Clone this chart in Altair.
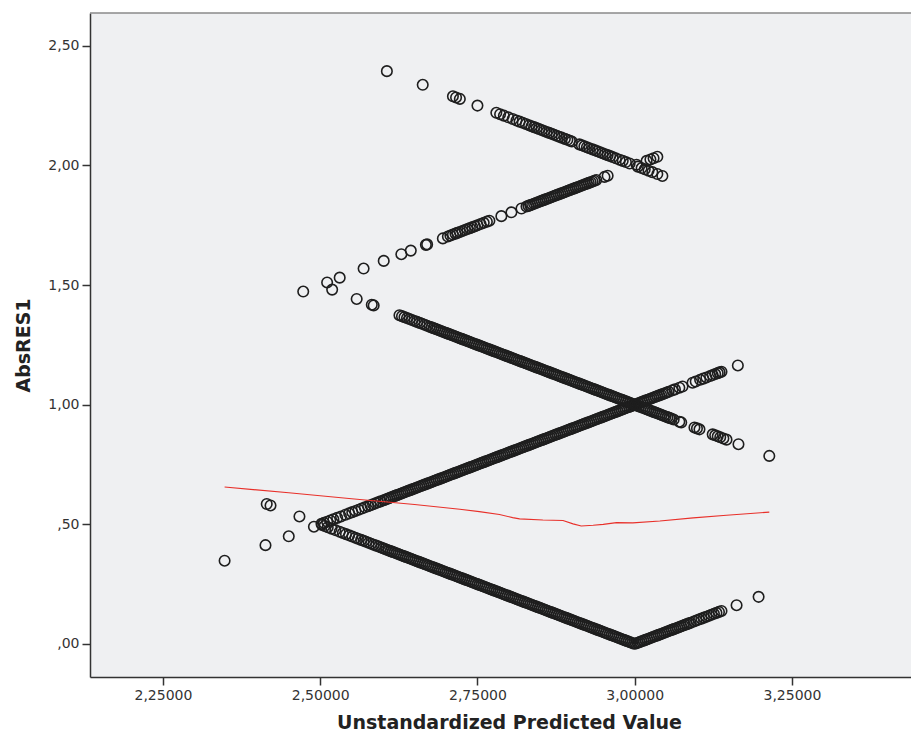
import altair as alt
import pandas as pd

# Predicted values grouped by observed response (1..5); AbsRES1 = |observed - predicted|
pred_obs1 = [2.473, 2.511, 2.531, 2.569, 2.601, 2.629, 2.644, 2.668, 2.670, 2.695,
             2.703, 2.707, 2.711, 2.715, 2.718, 2.722, 2.726, 2.730, 2.734, 2.738,
             2.742, 2.746, 2.750, 2.755, 2.760, 2.765, 2.769, 2.788, 2.804, 2.820,
             2.828, 2.831, 2.834, 2.837, 2.840, 2.843, 2.846, 2.849, 2.852, 2.855,
             2.858, 2.861, 2.864, 2.867, 2.870, 2.873, 2.876, 2.879, 2.882, 2.885,
             2.888, 2.891, 2.894, 2.897, 2.900, 2.903, 2.906, 2.909, 2.912, 2.915,
             2.918, 2.921, 2.924, 2.927, 2.930, 2.933, 2.936, 2.939, 2.952, 2.957,
             3.003, 3.019, 3.025, 3.030, 3.036]

pred_obs2 = [2.348, 2.413, 2.450, 2.490, 2.502, 2.506, 2.511, 2.516, 2.521, 2.527,
             2.533, 2.540, 2.546, 2.551, 2.556, 2.561, 2.566, 2.571, 2.576, 2.580,
             2.584, 2.588, 2.592, 2.596,
             2.601, 2.604, 2.607, 2.610, 2.613, 2.616, 2.619, 2.622, 2.625, 2.628,
             2.631, 2.634, 2.637, 2.640, 2.643, 2.646, 2.649, 2.652, 2.655, 2.658,
             2.661, 2.664, 2.667, 2.670, 2.673, 2.676, 2.679, 2.682, 2.685, 2.688,
             2.691, 2.694, 2.697, 2.700, 2.703, 2.706, 2.709, 2.712, 2.715, 2.718,
             2.721, 2.724, 2.727, 2.730, 2.733, 2.736, 2.739, 2.742, 2.745, 2.748,
             2.751, 2.754, 2.757, 2.760, 2.763, 2.766, 2.769, 2.772, 2.775, 2.778,
             2.781, 2.784, 2.787, 2.790, 2.793, 2.796, 2.799, 2.802, 2.805, 2.808,
             2.811, 2.814, 2.817, 2.820, 2.823, 2.826, 2.829, 2.832, 2.835, 2.838,
             2.841, 2.844, 2.847, 2.850, 2.853, 2.856, 2.859, 2.862, 2.865, 2.868,
             2.871, 2.874, 2.877, 2.880, 2.883, 2.886, 2.889, 2.892, 2.895, 2.898,
             2.901, 2.904, 2.907, 2.910, 2.913, 2.916, 2.919, 2.922, 2.925, 2.928,
             2.931, 2.934, 2.937, 2.940, 2.943, 2.946, 2.949, 2.952, 2.955, 2.958,
             2.961, 2.964, 2.967, 2.970, 2.973, 2.976, 2.979, 2.982, 2.985, 2.988,
             2.991, 2.994, 2.997, 3.000, 3.003, 3.006, 3.009, 3.012, 3.015, 3.018,
             3.021, 3.024, 3.027, 3.030, 3.033, 3.036, 3.039, 3.042, 3.045, 3.048,
             3.051, 3.054,
             3.060, 3.064, 3.071, 3.076, 3.092, 3.097, 3.104, 3.109, 3.114, 3.120,
             3.124, 3.128, 3.132, 3.135, 3.138, 3.164]

pred_obs3 = [2.415, 2.421, 2.467, 2.503, 2.507, 2.512, 2.518, 2.524, 2.531, 2.536,
             2.541, 2.546, 2.551, 2.556, 2.560, 2.565, 2.569, 2.573, 2.577, 2.581,
             2.585, 2.589, 2.593, 2.597,
             2.600, 2.603, 2.606, 2.609, 2.612, 2.615, 2.618, 2.621, 2.624, 2.627,
             2.630, 2.633, 2.636, 2.639, 2.642, 2.645, 2.648, 2.651, 2.654, 2.657,
             2.660, 2.663, 2.666, 2.669, 2.672, 2.675, 2.678, 2.681, 2.684, 2.687,
             2.690, 2.693, 2.696, 2.699, 2.702, 2.705, 2.708, 2.711, 2.714, 2.717,
             2.720, 2.723, 2.726, 2.729, 2.732, 2.735, 2.738, 2.741, 2.744, 2.747,
             2.750, 2.753, 2.756, 2.759, 2.762, 2.765, 2.768, 2.771, 2.774, 2.777,
             2.780, 2.783, 2.786, 2.789, 2.792, 2.795, 2.798, 2.801, 2.804, 2.807,
             2.810, 2.813, 2.816, 2.819, 2.822, 2.825, 2.828, 2.831, 2.834, 2.837,
             2.840, 2.843, 2.846, 2.849, 2.852, 2.855, 2.858, 2.861, 2.864, 2.867,
             2.870, 2.873, 2.876, 2.879, 2.882, 2.885, 2.888, 2.891, 2.894, 2.897,
             2.900, 2.903, 2.906, 2.909, 2.912, 2.915, 2.918, 2.921, 2.924, 2.927,
             2.930, 2.933, 2.936, 2.939, 2.942, 2.945, 2.948, 2.951, 2.954, 2.957,
             2.960, 2.963, 2.966, 2.969, 2.972, 2.975, 2.978, 2.981, 2.984, 2.987,
             2.990, 2.993, 2.996, 2.999,
             3.002, 3.005, 3.008, 3.011, 3.014, 3.017, 3.020, 3.023, 3.026, 3.029,
             3.032, 3.035, 3.038, 3.041, 3.044, 3.047, 3.050, 3.053, 3.056, 3.059,
             3.062, 3.065, 3.068, 3.071, 3.074, 3.077, 3.080, 3.083, 3.086, 3.089,
             3.094, 3.098, 3.102, 3.106, 3.110, 3.114, 3.118, 3.122, 3.126, 3.130,
             3.134, 3.138, 3.162, 3.197]

pred_obs4 = [2.519, 2.558, 2.582, 2.585, 2.626, 2.630, 2.634, 2.638, 2.642, 2.646,
             2.650, 2.654, 2.658, 2.662, 2.666, 2.670, 2.674, 2.677,
             2.680, 2.683, 2.686, 2.689, 2.692, 2.695, 2.698, 2.701, 2.704, 2.707,
             2.710, 2.713, 2.716, 2.719, 2.722, 2.725, 2.728, 2.731, 2.734, 2.737,
             2.740, 2.743, 2.746, 2.749, 2.752, 2.755, 2.758, 2.761, 2.764, 2.767,
             2.770, 2.773, 2.776, 2.779, 2.782, 2.785, 2.788, 2.791, 2.794, 2.797,
             2.800, 2.803, 2.806, 2.809, 2.812, 2.815, 2.818, 2.821, 2.824, 2.827,
             2.830, 2.833, 2.836, 2.839, 2.842, 2.845, 2.848, 2.851, 2.854, 2.857,
             2.860, 2.863, 2.866, 2.869, 2.872, 2.875, 2.878, 2.881, 2.884, 2.887,
             2.890, 2.893, 2.896, 2.899, 2.902, 2.905, 2.908, 2.911, 2.914, 2.917,
             2.920, 2.923, 2.926, 2.929, 2.932, 2.935, 2.938, 2.941, 2.944, 2.947,
             2.950, 2.953, 2.956, 2.959, 2.962, 2.965, 2.968, 2.971, 2.974, 2.977,
             2.980, 2.983, 2.986, 2.989, 2.992, 2.995, 2.998, 3.001, 3.004, 3.007,
             3.010, 3.013, 3.016, 3.019, 3.022, 3.025, 3.028, 3.031, 3.034, 3.037,
             3.040, 3.043, 3.046, 3.049, 3.052, 3.055,
             3.058, 3.062, 3.071, 3.074, 3.095, 3.099, 3.103, 3.124, 3.128, 3.132,
             3.136, 3.141, 3.146, 3.165, 3.214]

pred_obs5 = [2.606, 2.663, 2.711, 2.716, 2.722, 2.750, 2.780, 2.786, 2.792, 2.799,
             2.806, 2.812, 2.817, 2.822, 2.827, 2.832, 2.836, 2.840, 2.844, 2.848,
             2.852, 2.856, 2.860, 2.864, 2.868, 2.872, 2.876, 2.880, 2.884, 2.889,
             2.893, 2.897, 2.900, 2.912, 2.916, 2.920, 2.924, 2.928, 2.933, 2.937,
             2.941, 2.945, 2.949, 2.953, 2.957, 2.961, 2.965, 2.970, 2.976, 2.981,
             2.986, 2.992, 3.005, 3.011, 3.016, 3.022, 3.028, 3.036, 3.044]

# Loess fit line (red)
loess_x = [2.348, 2.45, 2.55, 2.65, 2.722, 2.753, 2.785, 2.806, 2.817, 2.854,
           2.886, 2.902, 2.915, 2.934, 2.950, 2.971, 2.997, 3.040, 3.093, 3.146, 3.214]
loess_y = [0.656, 0.632, 0.607, 0.583, 0.563, 0.553, 0.541, 0.528, 0.523, 0.518,
           0.516, 0.502, 0.493, 0.496, 0.500, 0.507, 0.506, 0.514, 0.527, 0.538, 0.551]

x_ticks = [2.25, 2.50, 2.75, 3.00, 3.25]
y_ticks = [0.0, 0.5, 1.0, 1.5, 2.0, 2.5]

rows = []
for obs, lst in [(1, pred_obs1), (2, pred_obs2), (3, pred_obs3), (4, pred_obs4), (5, pred_obs5)]:
    for p in lst:
        rows.append({"pred": p, "obs": obs})
df = pd.DataFrame(rows)
loess_df = pd.DataFrame({"pred": loess_x, "AbsRES1": loess_y})

W, H = 821, 664
x_scale = alt.Scale(domain=[2.134, 3.4393], nice=False, zero=False)
y_scale = alt.Scale(domain=[-0.138, 2.637], nice=False, zero=False)

x_label = "replace(format(datum.value, '.5f'), '.', ',')"
y_label = ("datum.value < 1 ? ',' + substring(format(datum.value, '.2f'), 2) "
           ": replace(format(datum.value, '.2f'), '.', ',')")

x_axis = alt.Axis(values=x_ticks, labelExpr=x_label, title="Unstandardized Predicted Value",
                  grid=False, titleX=419, titleY=51, titleBaseline="alphabetic",
                  titleAlign="center")
y_axis = alt.Axis(values=y_ticks, labelExpr=y_label, title="AbsRES1", grid=False,
                  titlePadding=14)

points = alt.Chart(df).transform_calculate(
    AbsRES1="abs(datum.obs - datum.pred)"
).mark_point(shape="circle", filled=False, size=110, color="#1e1e1e",
             strokeWidth=1.6, opacity=1).encode(
    x=alt.X("pred:Q", scale=x_scale, axis=x_axis),
    y=alt.Y("AbsRES1:Q", scale=y_scale, axis=y_axis),
)

loess = alt.Chart(loess_df).mark_line(color="#e8302a", strokeWidth=1.1).encode(
    x=alt.X("pred:Q", scale=x_scale, axis=x_axis),
    y=alt.Y("AbsRES1:Q", scale=y_scale, axis=y_axis),
)

top_border = alt.Chart(pd.DataFrame({"k": [0]})).mark_rule(
    color="#8a8a8a", strokeWidth=1.5
).encode(x=alt.value(0), x2=alt.value(W), y=alt.value(0))

chart = alt.layer(points, loess, top_border).properties(
    width=W, height=H,
    autosize=alt.AutoSizeParams(type="none"),
    padding={"left": 82, "top": 5, "right": 0, "bottom": 56},
).configure_view(
    fill="#eff0f2", stroke=None
).configure_axis(
    domainColor="#333333", domainWidth=1.5,
    tickColor="#333333", tickWidth=1.5, tickSize=8,
    labelFont="DejaVu Sans", labelFontSize=14, labelColor="#333333", labelPadding=3,
    titleFont="DejaVu Sans", titleFontSize=19, titleFontWeight="bold", titleColor="#222222",
)

chart.save("out.html", embed_options={"renderer": "svg", "actions": False})
